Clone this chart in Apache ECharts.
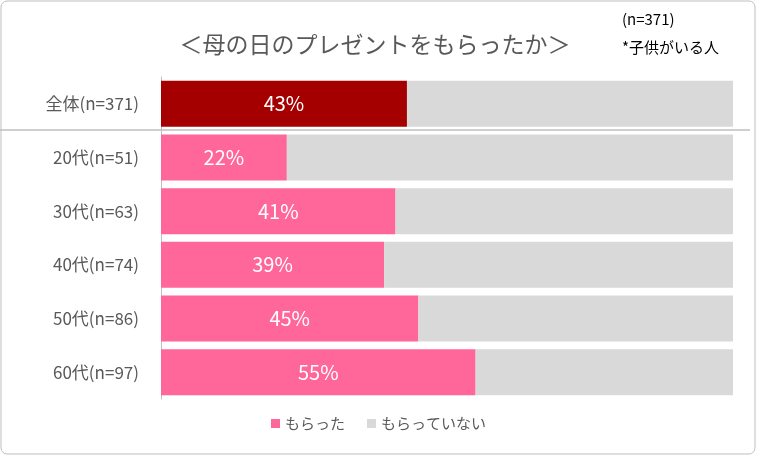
<!DOCTYPE html>
<html>
<head>
<meta charset="utf-8">
<style>html,body{margin:0;height:100%;background:#fff}#main{width:757px;height:456px}</style>
<script src="https://cdn.jsdelivr.net/npm/echarts@6/dist/echarts.min.js"></script>
</head>
<body>
<div id="main"></div>
<script>
var categories = ['全体(n=371)', '20代(n=51)', '30代(n=63)', '40代(n=74)', '50代(n=86)', '60代(n=97)'];
var received = [43, 22, 41, 39, 45, 55];
var notReceived = received.map(function (v) { return 100 - v; });

var font = '"Noto Sans CJK JP", sans-serif';
var chart = echarts.init(document.getElementById('main'));
chart.setOption({
	textStyle: { fontFamily: font },
	title: {
		text: '＜母の日のプレゼントをもらったか＞',
		left: 370, top: 28, textAlign: 'center',
		textStyle: { fontSize: 23, fontWeight: 'normal', color: '#595959', fontFamily: font }
	},
	graphic: [
		{ type: 'rect', shape: { x: 1, y: 1, width: 754, height: 453, r: 6 }, style: { fill: 'none', stroke: '#BFBFBF', lineWidth: 1 } },
		{ type: 'text', left: 622, top: 12, style: { text: '(n=371)', fontSize: 15, fill: '#000', fontFamily: font } },
		{ type: 'text', left: 622, top: 40, style: { text: '*子供がいる人', fontSize: 15, fill: '#000', fontFamily: font } },
		{ type: 'line', shape: { x1: 0, y1: 130, x2: 750, y2: 130 }, style: { stroke: '#BFBFBF', lineWidth: 1.5 } }
	],
	legend: {
		bottom: 20, left: 'center', itemWidth: 9, itemHeight: 9, itemGap: 22,
		icon: 'rect',
		textStyle: { fontSize: 15, color: '#595959', fontFamily: font },
		data: ['もらった', 'もらっていない']
	},
	grid: { left: 161, right: 24, top: 77, bottom: 57 },
	xAxis: { type: 'value', min: 0, max: 100, show: false },
	yAxis: {
		type: 'category', data: categories, inverse: true,
		axisLine: { lineStyle: { color: '#BFBFBF' } },
		axisTick: { show: false },
		axisLabel: { fontSize: 17, color: '#595959', margin: 22, fontFamily: font }
	},
	series: [
		{
			name: 'もらった', type: 'bar', stack: 'a', barWidth: 46,
			itemStyle: { color: '#FF6699' },
			data: received.map(function (v, i) {
				return i === 0 ? { value: v, itemStyle: { color: '#A50000' } } : v;
			}),
			label: { show: true, position: 'inside', formatter: '{c}%', color: '#fff', fontSize: 20, fontFamily: font }
		},
		{
			name: 'もらっていない', type: 'bar', stack: 'a', barWidth: 46,
			itemStyle: { color: '#D9D9D9' },
			data: notReceived
		}
	]
});
</script>
</body>
</html>
